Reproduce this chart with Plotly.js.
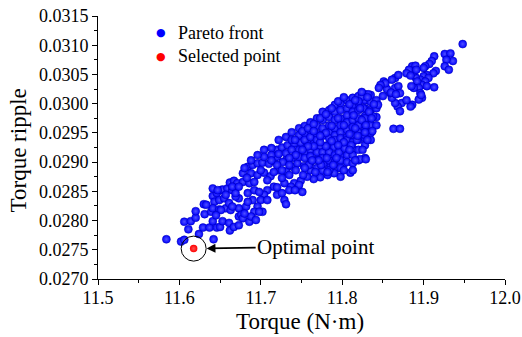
<!DOCTYPE html>
<html>
<head>
<meta charset="utf-8">
<script src="https://cdn.plot.ly/plotly-3.0.1.min.js"></script>
<style>html,body{margin:0;padding:0;background:#fff;}#chart{width:522px;height:337px;}</style>
</head>
<body>
<div id="chart"></div>
<script>
// Pareto front points (torque, torque ripple)
const paretoX = [
11.584,11.602,11.606,11.624,11.642,11.611,11.606,11.614,11.620,11.620,11.631,11.629,11.637,11.646,11.650,11.641,11.653,11.661,11.662,11.630,
11.639,11.641,11.646,11.651,11.643,11.649,11.655,11.641,11.649,11.657,11.663,11.653,11.659,11.657,11.662,11.667,11.671,11.678,11.673,11.673,
11.678,11.665,11.669,11.633,11.651,11.645,11.673,11.676,11.661,11.665,11.641,11.647,11.669,11.665,11.678,11.673,11.667,11.673,11.678,11.686,
11.684,11.690,11.696,11.702,11.710,11.716,11.720,11.720,11.726,11.733,11.741,11.749,11.757,11.765,11.773,11.782,11.790,11.798,11.806,11.814,
11.688,11.696,11.704,11.712,11.722,11.731,11.739,11.745,11.753,11.761,11.769,11.777,11.786,11.794,11.802,11.810,11.798,11.790,11.782,11.773,
11.765,11.757,11.749,11.741,
11.745,11.751,11.737,11.729,11.720,11.726,11.729,11.731,11.716,11.708,11.704,11.700,11.696,11.692,11.688,11.694,11.702,11.698,11.684,11.682,
11.680,11.686,11.692,11.690,11.684,
11.704,11.704,11.713,11.713,11.722,11.722,11.731,11.731,11.731,11.738,11.738,11.738,11.738,11.747,11.747,11.747,11.747,
11.754,11.754,11.754,11.754,11.754,11.761,11.761,11.761,11.761,11.761,11.761,11.769,11.769,11.769,11.769,11.769,11.769,
11.776,11.776,11.776,11.776,11.776,11.776,11.776,11.784,11.784,11.784,11.784,11.784,11.784,11.784,11.784,
11.791,11.791,11.791,11.791,11.791,11.791,11.791,11.791,11.798,11.798,11.798,11.798,11.798,11.798,11.798,11.798,11.798,
11.806,11.806,11.806,11.806,11.806,11.806,11.806,11.806,11.806,11.813,11.813,11.813,11.813,11.813,11.813,11.813,11.813,11.813,11.813,
11.820,11.820,11.820,11.820,11.820,11.820,11.820,11.820,11.820,11.828,11.828,11.828,11.828,11.828,11.828,11.828,11.828,11.828,
11.835,11.835,11.835,11.835,11.835,11.835,11.835,11.842,11.842,11.842,11.842,
11.688,11.696,11.680,11.822,11.829,
11.948,11.926,11.933,11.913,11.910,11.907,11.936,11.928,11.926,11.931,11.915,11.912,11.902,11.900,11.904,11.900,11.906,11.896,11.902,11.898,
11.904,11.890,11.888,11.886,11.890,11.882,11.879,11.884,11.892,11.894,11.888,11.885,11.896,11.898,11.894,11.886,11.884,11.873,11.868,11.871,
11.865,11.861,11.859,11.865,11.869,11.871,11.855,11.851,11.853,11.847,11.845,11.865,11.869,11.861,11.913,11.863,11.871,11.832,11.824,11.844,
11.826,11.820,11.838,11.828,11.837,11.827,11.831,11.850,11.860,11.866,11.879,11.897,11.891,
11.700,11.708,11.716,11.726,11.735,11.743,11.752,11.759,11.767,11.774,11.781,11.789,11.796,11.803,11.811,11.818,11.825,11.747,11.735,11.720,
11.708,11.698,11.692,11.683,11.742,11.751,11.758,11.765,11.773,11.780,11.787,11.795,11.802,11.809,11.816,11.824,11.831,11.839,11.833,11.824,
11.816,11.809,11.802,11.795,11.787,11.780,11.773,11.765,11.758,11.751,11.743,11.735,11.727,11.720,11.713,11.802,11.795,11.787,11.780,11.773,
11.765,11.814,11.822,11.829,11.836,11.828,11.819,11.809,11.816,11.802,11.793,11.782,11.771,11.763,11.754,11.735,11.726,11.742
];
const paretoY = [
0.02768,0.02764,0.02767,0.02777,0.02768,0.02785,0.02798,0.02799,0.02805,0.02816,0.02811,0.02788,0.02788,0.02788,0.02789,0.02799,0.02799,0.02796,0.02783,0.02828,
0.02815,0.02842,0.02847,0.02852,0.02832,0.02835,0.02838,0.02821,0.02819,0.02821,0.02818,0.02853,0.02855,0.02844,0.02865,0.02868,0.02864,0.02881,0.02838,0.02807,
0.02815,0.02852,0.02841,0.02827,0.02818,0.02809,0.02821,0.02810,0.02830,0.02824,0.02855,0.02852,0.02847,0.02858,0.02866,0.02858,0.02789,0.02792,0.02804,0.02798,
0.02892,0.02895,0.02898,0.02899,0.02897,0.02902,0.02909,0.02921,0.02925,0.02929,0.02932,0.02933,0.02932,0.02931,0.02927,0.02929,0.02926,0.02925,0.02924,0.02922,
0.02881,0.02878,0.02882,0.02876,0.02886,0.02884,0.02892,0.02898,0.02893,0.02899,0.02904,0.02897,0.02893,0.02889,0.02897,0.02882,0.02875,0.02881,0.02878,0.02874,
0.02871,0.02875,0.02868,0.02864,
0.02855,0.02849,0.02858,0.02864,0.02844,0.02847,0.02835,0.02828,0.02858,0.02852,0.02844,0.02835,0.02824,0.02815,0.02807,0.02801,0.02815,0.02815,0.02847,0.02824,
0.02812,0.02864,0.02852,0.02835,0.02832,
0.02921,0.02909,0.02924,0.02912,0.02938,0.02914,0.02943,0.02915,0.02903,0.02951,0.02938,0.02921,0.02907,0.02958,0.02946,0.02921,0.02909,
0.02962,0.02950,0.02938,0.02917,0.02907,0.02968,0.02955,0.02943,0.02921,0.02910,0.02886,0.02975,0.02962,0.02948,0.02938,0.02917,0.02890,
0.02986,0.02972,0.02958,0.02945,0.02917,0.02907,0.02886,0.02989,0.02977,0.02963,0.02951,0.02941,0.02917,0.02903,0.02886,
0.02998,0.02986,0.02972,0.02958,0.02946,0.02938,0.02912,0.02900,0.03001,0.02989,0.02975,0.02963,0.02951,0.02941,0.02912,0.02903,0.02890,
0.03006,0.02992,0.02980,0.02968,0.02955,0.02943,0.02938,0.02912,0.02900,0.03010,0.02998,0.02986,0.02972,0.02960,0.02946,0.02934,0.02912,0.02898,0.02886,
0.03013,0.03001,0.02989,0.02975,0.02963,0.02951,0.02938,0.02921,0.02903,0.03016,0.03006,0.02992,0.02979,0.02967,0.02955,0.02941,0.02929,0.02907,
0.03015,0.03003,0.02989,0.02975,0.02963,0.02950,0.02938,0.03006,0.02992,0.02977,0.02963,
0.02903,0.02912,0.02890,0.02905,0.02905,
0.03102,0.03085,0.03086,0.03081,0.03073,0.03068,0.03073,0.03075,0.03064,0.03058,0.03056,0.03052,0.03064,0.03061,0.03049,0.03047,0.03044,0.03041,0.03038,0.03032,
0.03030,0.03045,0.03055,0.03064,0.03065,0.03058,0.03052,0.03048,0.03038,0.03027,0.03027,0.03030,0.03018,0.03010,0.03007,0.02998,0.02995,0.03001,0.02995,0.02987,
0.03001,0.03010,0.03018,0.03027,0.03030,0.03018,0.03025,0.03038,0.03035,0.03032,0.03027,0.03044,0.03049,0.03041,0.03028,0.02957,0.02957,0.03016,0.03012,0.02998,
0.02992,0.03004,0.02978,0.02975,0.02953,0.02947,0.02938,0.03013,0.03019,0.03016,0.03006,0.03015,0.03058,
0.02886,0.02869,0.02883,0.02873,0.02878,0.02886,0.02878,0.02895,0.02883,0.02895,0.02907,0.02895,0.02917,0.02924,0.02929,0.02938,0.02921,0.02861,0.02852,0.02857,
0.02835,0.02849,0.02866,0.02873,0.02938,0.02953,0.02958,0.02965,0.02975,0.02982,0.02992,0.03004,0.03011,0.02999,0.03006,0.03020,0.03011,0.02999,0.02986,0.02972,
0.02958,0.02948,0.02934,0.02929,0.02936,0.02927,0.02934,0.02927,0.02927,0.02921,0.02912,0.02907,0.02900,0.02895,0.02903,0.02963,0.02975,0.02962,0.02950,0.02945,
0.02953,0.02980,0.02992,0.02963,0.02975,0.02951,0.02945,0.02921,0.02903,0.02886,0.02907,0.02883,0.02903,0.02903,0.02890,0.02895,0.02886,0.02852
];
// Selected (optimal) point
const selectedX = [11.6175];
const selectedY = [0.02752];
const xTickVals = [11.5, 11.6, 11.7, 11.8, 11.9, 12.0];
const xTickText = ['11.5', '11.6', '11.7', '11.8', '11.9', '12.0'];
const seriesNames = ['Pareto front', 'Selected point'];
const seriesColors = ['#0000ff', '#ff0000'];
const xTitle = 'Torque (N·m)';
const yTitle = 'Torque ripple';
const annotationText = 'Optimal point';

const FONT = 'Liberation Serif, Times New Roman, serif';

const traces = [
  {
    type: 'scatter', mode: 'markers', name: seriesNames[0], showlegend: false,
    x: paretoX, y: paretoY,
    marker: {size: 8, color: seriesColors[0], line: {width: 0.5, color: '#0000b0'},
             gradient: {type: 'radial', color: '#5050ff'}}
  },
  {
    type: 'scatter', mode: 'markers', name: seriesNames[1], showlegend: false,
    x: selectedX, y: selectedY,
    marker: {size: 7.5, color: seriesColors[1], line: {width: 0},
             gradient: {type: 'radial', color: '#ff5050'}}
  }
];

// legend drawn as paper-positioned annotations (symbol + label per series)
const legendRowsY = [0.9354, 0.8479];
const legendAnn = [];
seriesNames.forEach((name, i) => {
  legendAnn.push({
    text: '●', xref: 'paper', yref: 'paper', x: 0.1548, y: legendRowsY[i],
    xanchor: 'center', yanchor: 'middle', showarrow: false,
    font: {family: 'DejaVu Sans', size: 11, color: seriesColors[i]}
  });
  legendAnn.push({
    text: name, xref: 'paper', yref: 'paper', x: 0.1916, y: legendRowsY[i],
    xanchor: 'left', yanchor: 'middle', showarrow: false,
    font: {family: FONT, size: 18, color: '#000'}
  });
});

const layout = {
  width: 522, height: 337,
  margin: {l: 98, r: 17, t: 16, b: 58, autoexpand: false},
  paper_bgcolor: '#ffffff', plot_bgcolor: '#ffffff',
  font: {family: FONT, size: 18, color: '#000000'},
  showlegend: false,
  xaxis: {
    range: [11.5, 12.0], tickvals: xTickVals, ticktext: xTickText,
    showgrid: false, zeroline: false, showline: true, linecolor: '#000', linewidth: 1,
    ticks: 'outside', ticklen: 5, tickwidth: 1, tickcolor: '#000',
    ticklabelstandoff: -3,
    minor: {dtick: 0.05, ticks: 'outside', ticklen: 3, tickwidth: 1, tickcolor: '#000', showgrid: false},
    tickfont: {family: FONT, size: 18},
    mirror: false
  },
  yaxis: {
    range: [0.0270, 0.0315], dtick: 0.0005, tick0: 0.0270, tickformat: '.4f',
    showgrid: false, zeroline: false, showline: true, linecolor: '#000', linewidth: 1,
    ticks: 'outside', ticklen: 5, tickwidth: 1, tickcolor: '#000',
    minor: {dtick: 0.00025, ticks: 'outside', ticklen: 3, tickwidth: 1, tickcolor: '#000', showgrid: false},
    tickfont: {family: FONT, size: 18},
    mirror: false
  },
  shapes: [{
    type: 'circle', xref: 'x', yref: 'y',
    xsizemode: 'pixel', ysizemode: 'pixel',
    xanchor: selectedX[0], yanchor: selectedY[0],
    x0: -12.5, x1: 12.5, y0: -12.5, y1: 12.5,
    line: {color: '#000', width: 1}
  }],
  annotations: [
    {
      x: selectedX[0], y: selectedY[0], xref: 'x', yref: 'y',
      text: annotationText, showarrow: true,
      ax: 122, ay: -2, axref: 'pixel', ayref: 'pixel',
      arrowhead: 2, arrowsize: 1.1, arrowwidth: 1.6, arrowcolor: '#000',
      standoff: 13, font: {family: FONT, size: 21, color: '#000'}
    },
    {
      text: xTitle, xref: 'paper', yref: 'paper', x: 0.4975, y: -0.1597,
      xanchor: 'center', yanchor: 'middle', showarrow: false,
      font: {family: FONT, size: 23, color: '#000'}
    },
    {
      text: yTitle, xref: 'paper', yref: 'paper', x: -0.193, y: 0.4905,
      xanchor: 'center', yanchor: 'middle', showarrow: false, textangle: -90,
      font: {family: FONT, size: 23, color: '#000'}
    }
  ].concat(legendAnn)
};

Plotly.newPlot('chart', traces, layout, {displayModeBar: false, staticPlot: true});
</script>
</body>
</html>
